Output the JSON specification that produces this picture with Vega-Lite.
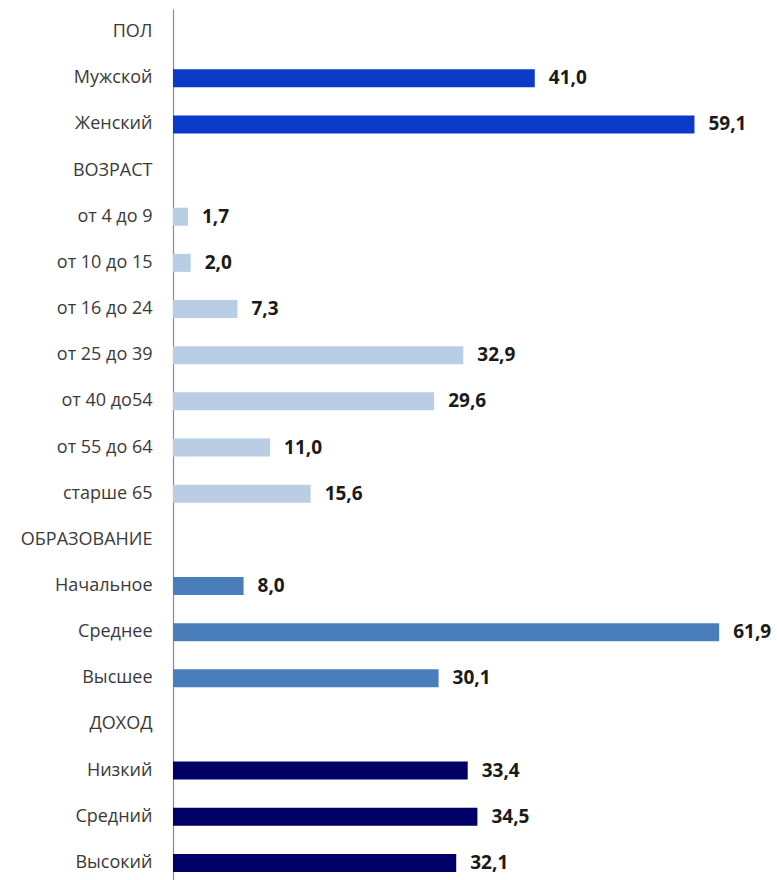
{
  "$schema": "https://vega.github.io/schema/vega-lite/v6.json",
  "autosize": "none",
  "width": 600,
  "height": 877,
  "padding": {"left": 173, "top": 9, "right": 4, "bottom": 0},
  "background": "white",
  "config": {
    "view": {"stroke": null},
    "locale": {"number": {"decimal": ",", "thousands": " ", "grouping": [3], "currency": ["", ""]}}
  },
  "data": {
    "values": [
      {"cat": "ПОЛ", "group": "header", "value": null},
      {"cat": "Мужской", "group": "Пол", "value": 41.0},
      {"cat": "Женский", "group": "Пол", "value": 59.1},
      {"cat": "ВОЗРАСТ", "group": "header", "value": null},
      {"cat": "от 4 до 9", "group": "Возраст", "value": 1.7},
      {"cat": "от 10 до 15", "group": "Возраст", "value": 2.0},
      {"cat": "от 16 до 24", "group": "Возраст", "value": 7.3},
      {"cat": "от 25 до 39", "group": "Возраст", "value": 32.9},
      {"cat": "от 40 до54", "group": "Возраст", "value": 29.6},
      {"cat": "от 55 до 64", "group": "Возраст", "value": 11.0},
      {"cat": "старше 65", "group": "Возраст", "value": 15.6},
      {"cat": "ОБРАЗОВАНИЕ", "group": "header", "value": null},
      {"cat": "Начальное", "group": "Образование", "value": 8.0},
      {"cat": "Среднее", "group": "Образование", "value": 61.9},
      {"cat": "Высшее", "group": "Образование", "value": 30.1},
      {"cat": "ДОХОД", "group": "header", "value": null},
      {"cat": "Низкий", "group": "Доход", "value": 33.4},
      {"cat": "Средний", "group": "Доход", "value": 34.5},
      {"cat": "Высокий", "group": "Доход", "value": 32.1}
    ]
  },
  "encoding": {
    "y": {
      "field": "cat",
      "type": "nominal",
      "scale": {
        "domain": ["ПОЛ", "Мужской", "Женский", "ВОЗРАСТ", "от 4 до 9", "от 10 до 15", "от 16 до 24", "от 25 до 39", "от 40 до54", "от 55 до 64", "старше 65", "ОБРАЗОВАНИЕ", "Начальное", "Среднее", "Высшее", "ДОХОД", "Низкий", "Средний", "Высокий"],
        "paddingInner": 0.6,
        "paddingOuter": 0.3
      },
      "axis": {
        "title": null,
        "ticks": false,
        "domain": true,
        "domainColor": "#8c8c8c",
        "domainWidth": 1.2,
        "labelFont": "Open Sans",
        "labelFontSize": 18,
        "labelColor": "#3a3a3a",
        "labelPadding": 21,
        "grid": false
      }
    },
    "x": {
      "field": "value",
      "type": "quantitative",
      "scale": {"domain": [0, 68], "nice": false},
      "axis": null
    }
  },
  "layer": [
    {
      "mark": {"type": "bar", "size": 18},
      "encoding": {
        "color": {
          "field": "group",
          "type": "nominal",
          "scale": {"domain": ["Пол", "Возраст", "Образование", "Доход"], "range": ["#0B3AC8", "#B9CDE5", "#4A7EBB", "#000066"]},
          "legend": null
        }
      }
    },
    {
      "mark": {"type": "text", "align": "left", "baseline": "middle", "dx": 14, "font": "Open Sans", "fontSize": 19, "fontWeight": "bold", "color": "#1a1a1a"},
      "encoding": {
        "text": {"field": "value", "type": "quantitative", "format": ".1f"}
      }
    }
  ]
}
